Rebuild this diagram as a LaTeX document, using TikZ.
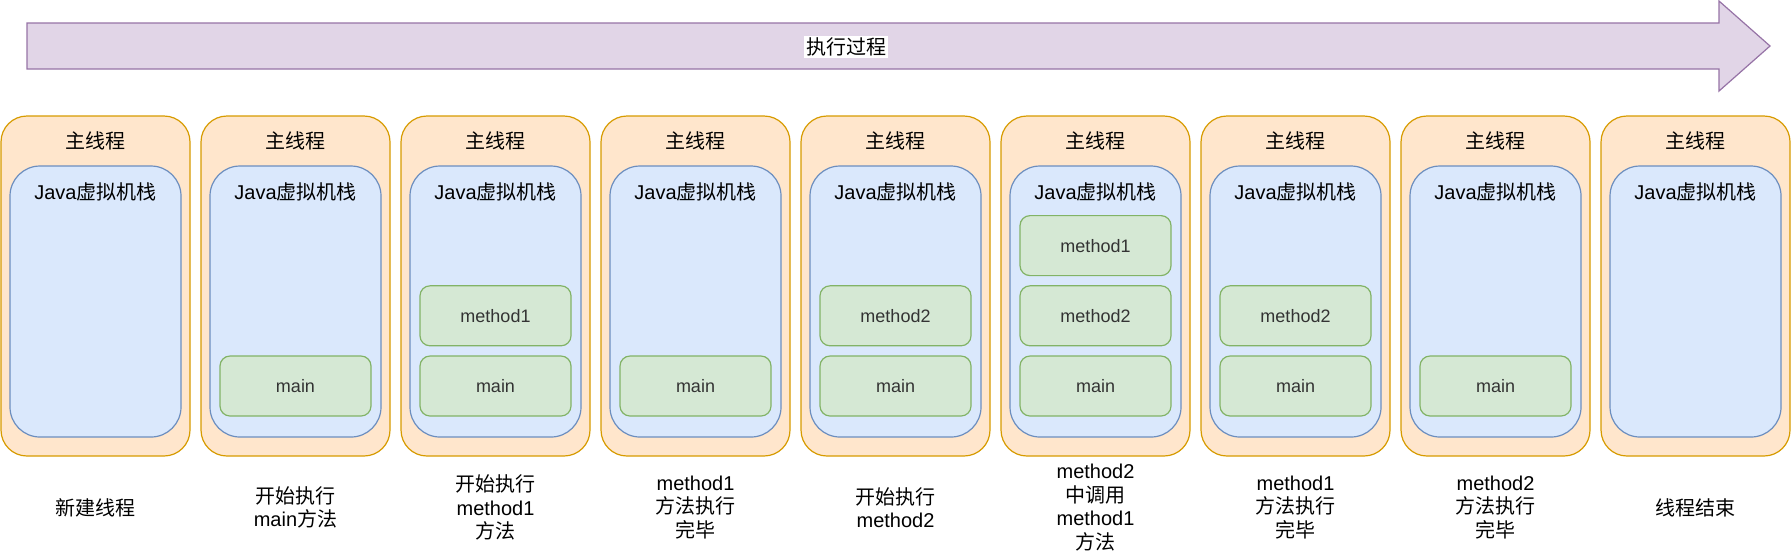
\documentclass[tikz,border=0pt]{standalone}
\usepackage{fontspec}
\setmainfont{Liberation Sans}
\newfontfamily\cjkfont{Noto Sans CJK SC}
\newcommand{\zh}[1]{{\cjkfont #1}}
\usetikzlibrary{positioning}

\definecolor{threadfill}{HTML}{FFE6CC}
\definecolor{threadline}{HTML}{D79B00}
\definecolor{stackfill}{HTML}{DAE8FC}
\definecolor{stackline}{HTML}{6C8EBF}
\definecolor{framefill}{HTML}{D5E8D4}
\definecolor{frameline}{HTML}{82B366}
\definecolor{timefill}{HTML}{E1D5E7}
\definecolor{timeline}{HTML}{9673A6}

\tikzset{
  thread/.style={draw=threadline,fill=threadfill,line width=0.6pt,rounded corners=13pt,
    minimum width=94.5pt,minimum height=170pt,inner sep=0pt},
  stack/.style={draw=stackline,fill=stackfill,line width=0.6pt,rounded corners=15pt,
    minimum width=85.5pt,minimum height=135.5pt,inner sep=0pt},
  frame/.style={draw=frameline,fill=framefill,line width=0.6pt,rounded corners=5pt,
    minimum width=75.5pt,minimum height=30pt,inner sep=0pt,text=black!80,
    font=\fontsize{9}{11}\selectfont},
  title/.style={inner sep=0pt,font=\fontsize{10}{12}\selectfont},
  note/.style={inner sep=0pt,align=center,font=\fontsize{10}{11.8}\selectfont},
  arrowbody/.style={draw=timeline,fill=timefill,line width=0.6pt,line join=miter}
}

\begin{document}
\begin{tikzpicture}[x=0.5pt,y=-0.5pt]
\useasboundingbox (0,0) rectangle (1791,554);

% time line
\draw[arrowbody] (27,23) -- (1719,23) -- (1719,1) -- (1770,46) -- (1719,91)
  -- (1719,69) -- (27,69) -- cycle;
\node[title,fill=white,inner sep=1pt] (timetext) at (846,47) {\zh{执行过程}};

% threads
\foreach \i/\txt in {1/{\zh{新建线程}},
    2/{\zh{开始执行}\\main\zh{方法}},
    3/{\zh{开始执行}\\method1\\\zh{方法}},
    4/{method1\\\zh{方法执行}\\\zh{完毕}},
    5/{\zh{开始执行}\\method2},
    6/{method2\\\zh{中调用}\\method1\\\zh{方法}},
    7/{method1\\\zh{方法执行}\\\zh{完毕}},
    8/{method2\\\zh{方法执行}\\\zh{完毕}},
    9/{\zh{线程结束}}}{
  \pgfmathsetmacro{\cx}{200*\i-104.5}
  \node[thread] (thread\i) at (\cx,286) {};
  \node[stack] (stack\i) at (\cx,301.5) {};
  \node[title] (threadname\i) at (\cx,141) {\zh{主线程}};
  \node[title] (stackname\i) at (\cx,192) {Java\zh{虚拟机栈}};
  \node[note] (note\i) at (\cx,507.5) {\txt};
}

% frames
\node[frame,anchor=south] (main2) at ([yshift=10.5pt]stack2.south) {main};
\node[frame,anchor=south] (main3) at ([yshift=10.5pt]stack3.south) {main};
\node[frame,above=4.5pt of main3] (method13) {method1};
\node[frame,anchor=south] (main4) at ([yshift=10.5pt]stack4.south) {main};
\node[frame,anchor=south] (main5) at ([yshift=10.5pt]stack5.south) {main};
\node[frame,above=4.5pt of main5] (method25) {method2};
\node[frame,anchor=south] (main6) at ([yshift=10.5pt]stack6.south) {main};
\node[frame,above=4.5pt of main6] (method26) {method2};
\node[frame,above=4.5pt of method26] (method16) {method1};
\node[frame,anchor=south] (main7) at ([yshift=10.5pt]stack7.south) {main};
\node[frame,above=4.5pt of main7] (method27) {method2};
\node[frame,anchor=south] (main8) at ([yshift=10.5pt]stack8.south) {main};
\end{tikzpicture}
\end{document}
